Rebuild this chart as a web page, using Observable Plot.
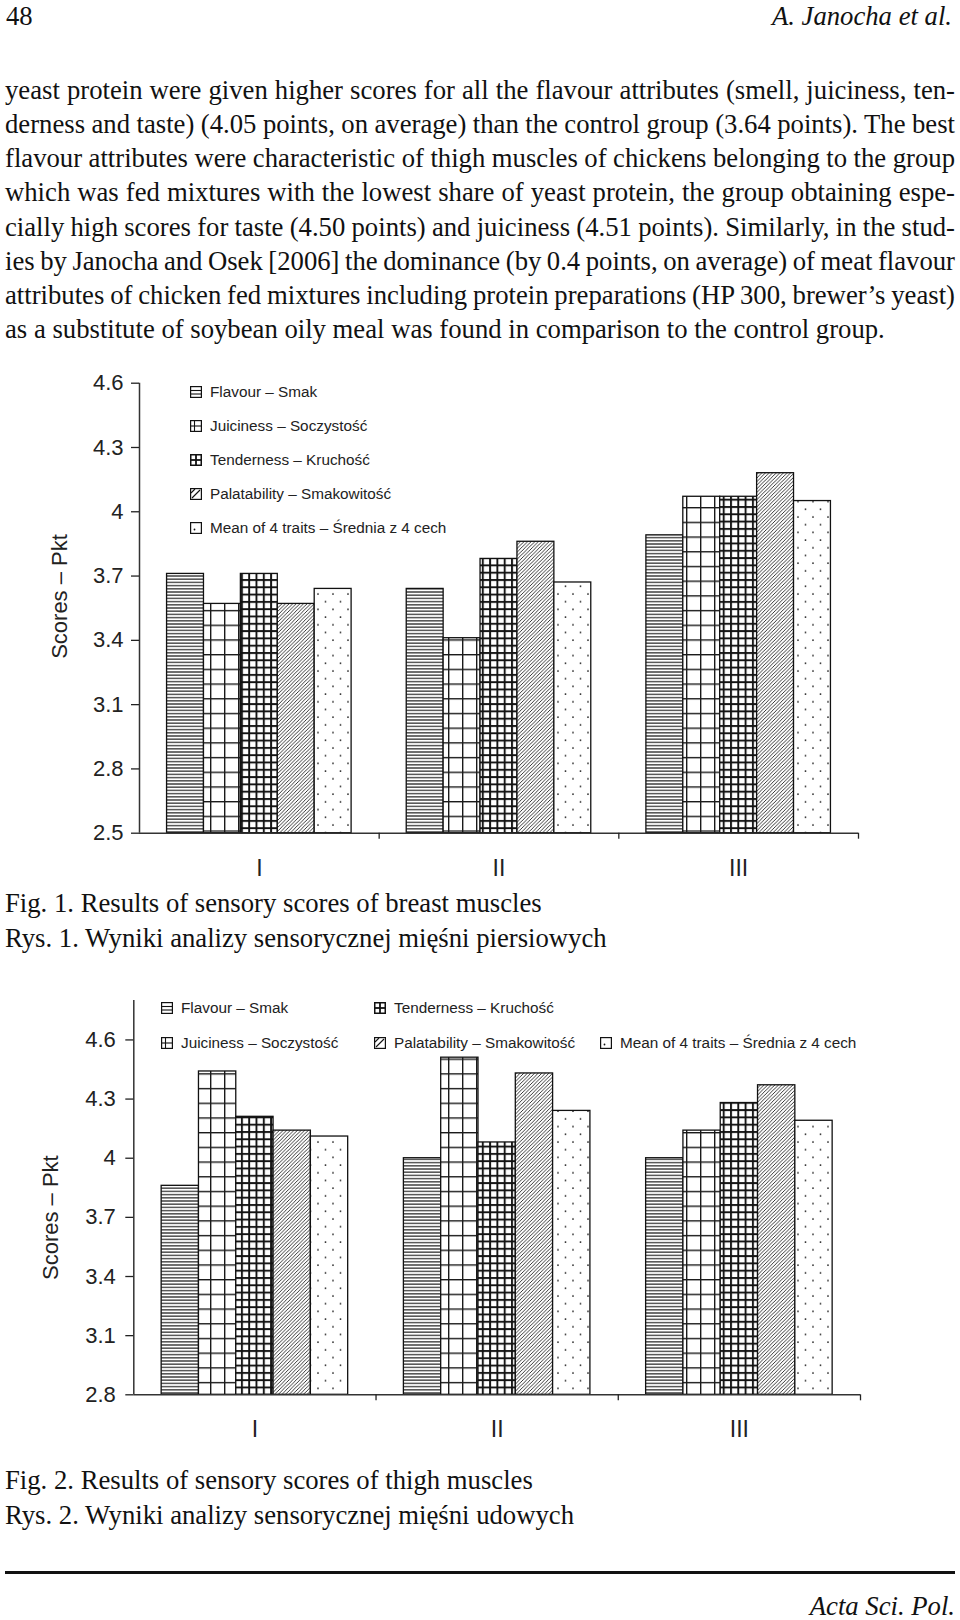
<!DOCTYPE html>
<html>
<head>
<meta charset="utf-8">
<script src="https://cdn.jsdelivr.net/npm/d3@7"></script>
<script src="https://cdn.jsdelivr.net/npm/@observablehq/plot@0.6"></script>
<style>
  html, body { margin: 0; padding: 0; background: #fff; }
  body { width: 960px; height: 1620px; position: relative; overflow: hidden; }
  .serif { font-family: "Liberation Serif", "Times New Roman", serif; font-size: 26.7px; line-height: 26.7px; color: #111; position: absolute; white-space: nowrap; }
  .line { left: 5px; width: 950px; }
  .chart { position: absolute; left: 0; }
  .leg { position: absolute; display: flex; align-items: center; height: 20px; font-family: "Liberation Sans", Arial, sans-serif; font-size: 15.3px; color: #222; white-space: nowrap; }
  .leg svg { margin-right: 8px; flex: none; }
</style>
</head>
<body>
<svg width="0" height="0" style="position:absolute">
  <defs>
    <pattern id="pFlav" patternUnits="userSpaceOnUse" width="10" height="3.2">
      <rect width="10" height="3.2" fill="#fff"/>
      <line x1="0" x2="10" y1="1.6" y2="1.6" stroke="#222" stroke-width="1.2"/>
    </pattern>
    <pattern id="pJuic" patternUnits="userSpaceOnUse" width="14" height="14.7">
      <rect width="14" height="14.7" fill="#fff"/>
      <line x1="0.7" x2="0.7" y1="0" y2="14.7" stroke="#1a1a1a" stroke-width="1.4"/>
      <line x1="0" x2="14" y1="0.7" y2="0.7" stroke="#1a1a1a" stroke-width="1.4"/>
    </pattern>
    <pattern id="pTend" patternUnits="userSpaceOnUse" width="7.3" height="7.3">
      <rect width="7.3" height="7.3" fill="#fff"/>
      <line x1="1" x2="1" y1="0" y2="7.3" stroke="#111" stroke-width="1.9"/>
      <line x1="0" x2="7.3" y1="1" y2="1" stroke="#111" stroke-width="1.9"/>
    </pattern>
    <pattern id="pPal" patternUnits="userSpaceOnUse" width="3.6" height="3.6">
      <rect width="3.6" height="3.6" fill="#fff"/>
      <path d="M0,3.6 L3.6,0 M-0.9,0.9 L0.9,-0.9 M2.7,4.5 L4.5,2.7" stroke="#222" stroke-width="0.9"/>
    </pattern>
    <pattern id="pMean" patternUnits="userSpaceOnUse" width="15" height="15.4">
      <rect width="15" height="15.4" fill="#fff"/>
      <circle cx="3" cy="3" r="0.95" fill="#222"/>
      <circle cx="10.5" cy="10.7" r="0.95" fill="#222"/>
    </pattern>
  </defs>
</svg>

<div class="serif" style="left:6px; top:2.5px;">48</div>
<div class="serif" style="right:8px; top:2.5px; font-style:italic;">A. Janocha et al.</div>
<div id="para"></div>

<div class="chart" id="chart1" style="top:360px;"></div>
<div id="legend1"></div>
<div class="serif" style="left:5px; top:890.1px;">Fig. 1. Results of sensory scores of breast muscles</div>
<div class="serif" style="left:5px; top:924.9px;">Rys. 1. Wyniki analizy sensorycznej mięśni piersiowych</div>

<div class="chart" id="chart2" style="top:985px;"></div>
<div id="legend2"></div>
<div class="serif" style="left:5px; top:1466.9px;">Fig. 2. Results of sensory scores of thigh muscles</div>
<div class="serif" style="left:5px; top:1501.6px;">Rys. 2. Wyniki analizy sensorycznej mięśni udowych</div>
<div style="position:absolute; left:5px; width:950px; top:1571px; height:3px; background:#111;"></div>
<div class="serif" style="right:5px; top:1596px; line-height:20px; font-style:italic;">Acta Sci. Pol.</div>

<script>
// ---------- data ----------
const groups = ["I", "II", "III"];
const traits = ["Flavour – Smak", "Juiciness – Soczystość", "Tenderness – Kruchość", "Palatability – Smakowitość", "Mean of 4 traits – Średnia z 4 cech"];

// Fig. 1 – breast muscles
const breastFlavour      = [3.71, 3.64, 3.89];
const breastJuiciness    = [3.57, 3.41, 4.07];
const breastTenderness   = [3.71, 3.78, 4.07];
const breastPalatability = [3.57, 3.86, 4.18];
const breastMean         = [3.64, 3.67, 4.05];
const breastTicks  = [2.5, 2.8, 3.1, 3.4, 3.7, 4, 4.3, 4.6];
const breastDomain = [2.5, 4.6];

// Fig. 2 – thigh muscles
const thighFlavour      = [3.86, 4.00, 4.00];
const thighJuiciness    = [4.44, 4.51, 4.14];
const thighTenderness   = [4.21, 4.08, 4.28];
const thighPalatability = [4.14, 4.43, 4.37];
const thighMean         = [4.11, 4.24, 4.19];
const thighTicks  = [2.8, 3.1, 3.4, 3.7, 4, 4.3, 4.6];
const thighDomain = [2.8, 4.8];

const yLabel = "Scores – Pkt";

const paragraphLines = [
  "yeast protein were given higher scores for all the flavour attributes (smell, juiciness, ten-",
  "derness and taste) (4.05 points, on average) than the control group (3.64 points). The best",
  "flavour attributes were characteristic of thigh muscles of chickens belonging to the group",
  "which was fed mixtures with the lowest share of yeast protein, the group obtaining espe-",
  "cially high scores for taste (4.50 points) and juiciness (4.51 points). Similarly, in the stud-",
  "ies by Janocha and Osek [2006] the dominance (by 0.4 points, on average) of meat flavour",
  "attributes of chicken fed mixtures including protein preparations (HP 300, brewer’s yeast)",
  "as a substitute of soybean oily meal was found in comparison to the control group."
];

// ---------- paragraph ----------
const para = document.getElementById("para");
paragraphLines.forEach((t, i) => {
  const d = document.createElement("div");
  d.className = "serif line";
  d.style.top = (76.7 + i * 34.2) + "px";
  const s = document.createElement("span");
  s.textContent = t;
  d.appendChild(s);
  para.appendChild(d);
  if (i < paragraphLines.length - 1) {
    const w = s.getBoundingClientRect().width;
    const spaces = (t.match(/ /g) || []).length;
    let extra = 950 - w;
    let ws = extra / spaces;
    if (ws < -3) {
      ws = -3;
      const rest = extra + 3 * spaces;
      s.style.letterSpacing = (rest / t.length) + "px";
    }
    s.style.wordSpacing = ws + "px";
  }
});

// ---------- charts ----------
const fills = ["url(#pFlav)", "url(#pJuic)", "url(#pTend)", "url(#pPal)", "url(#pMean)"];
const barW = 0.154;
const pad = (1 - 5 * barW) / 2;

function rows(series, lo) {
  return series.map((vals, k) => vals.map((v, g) => ({
    group: groups[g], trait: traits[k], value: v, lo,
    x1: g + pad + k * barW, x2: g + pad + (k + 1) * barW
  })));
}

function chart(series, domain, ticks, opt) {
  const data = rows(series, domain[0]);
  return Plot.plot({
    width: 960,
    height: opt.height,
    marginLeft: opt.left,
    marginRight: 960 - opt.right,
    marginTop: opt.top,
    marginBottom: opt.bottom,
    style: {fontFamily: "'Liberation Sans', Arial, sans-serif", fontSize: "22px", color: "#222", background: "transparent", overflow: "visible"},
    x: {domain: [0, 3], axis: null},
    y: {domain, axis: null},
    marks: [
      ...data.map((d, k) => Plot.rect(d, {x1: "x1", x2: "x2", y1: "lo", y2: "value", fill: fills[k], stroke: "#111", strokeWidth: 1.3})),
      Plot.ruleX([0], {stroke: "#333", strokeWidth: 1.5}),
      Plot.ruleY([domain[0]], {stroke: "#333", strokeWidth: 1.5}),
      Plot.axisY({ticks, tickSize: 8, tickPadding: opt.tickPad, fontSize: 22, label: null, tickFormat: d => String(d), strokeWidth: 1.3}),
      Plot.axisX({ticks: [1, 2, 3], tickSize: 6, tickFormat: () => "", label: null, strokeWidth: 1.3}),
      Plot.axisX({ticks: [0.5, 1.5, 2.5], tickSize: 0, tickPadding: 26, fontSize: 23, label: null, tickFormat: d => groups[Math.floor(d)]}),
      Plot.text([yLabel], {frameAnchor: "left", textAnchor: "middle", lineAnchor: "middle", dx: opt.labelDx, dy: opt.labelDy, rotate: -90, fontSize: 22, fill: "#222"})
    ]
  });
}

document.getElementById("chart1").appendChild(chart(
  [breastFlavour, breastJuiciness, breastTenderness, breastPalatability, breastMean],
  breastDomain, breastTicks,
  {height: 525, left: 139, right: 858, top: 22.7, bottom: 52.3, tickPad: 8, labelDx: -80, labelDy: -11.7}
));
document.getElementById("chart2").appendChild(chart(
  [thighFlavour, thighJuiciness, thighTenderness, thighPalatability, thighMean],
  thighDomain, thighTicks,
  {height: 465, left: 133.3, right: 860, top: 15, bottom: 55.7, tickPad: 10, labelDx: -82.5, labelDy: 20}
));

// ---------- legends ----------
const icons = [
  `<line x1="1" x2="11" y1="4.5" y2="4.5"/><line x1="1" x2="11" y1="8" y2="8"/>`,
  `<line x1="4.5" x2="4.5" y1="1" y2="11"/><line x1="1" x2="11" y1="6" y2="6"/>`,
  `<line x1="6" x2="6" y1="1" y2="11" stroke-width="1.8"/><line x1="1" x2="11" y1="6" y2="6" stroke-width="1.8"/>`,
  `<line x1="2" x2="10" y1="10" y2="2"/><line x1="1" x2="5" y1="5" y2="1"/>`,
  `<circle cx="4.5" cy="7.5" r="0.9" fill="#111" stroke="none"/>`
];
function legendItem(host, k, x, cy) {
  const d = document.createElement("div");
  d.className = "leg";
  d.style.left = x + "px";
  d.style.top = (cy - 10) + "px";
  d.innerHTML = `<svg width="12" height="12"><g stroke="#111" stroke-width="1.1" fill="none">` +
    `<rect x="0.6" y="0.6" width="10.8" height="10.8" fill="#fff" stroke-width="${k === 2 ? 1.8 : 1.2}"/>${icons[k]}</g></svg>`;
  const s = document.createElement("span");
  s.textContent = traits[k];
  d.appendChild(s);
  host.appendChild(d);
}
const l1 = document.getElementById("legend1");
traits.forEach((t, k) => legendItem(l1, k, 190, 391.7 + k * 34));
const l2 = document.getElementById("legend2");
legendItem(l2, 0, 161, 1008.3);
legendItem(l2, 2, 374, 1008.3);
legendItem(l2, 1, 161, 1042.7);
legendItem(l2, 3, 374, 1042.7);
legendItem(l2, 4, 600, 1042.7);
</script>
</body>
</html>
